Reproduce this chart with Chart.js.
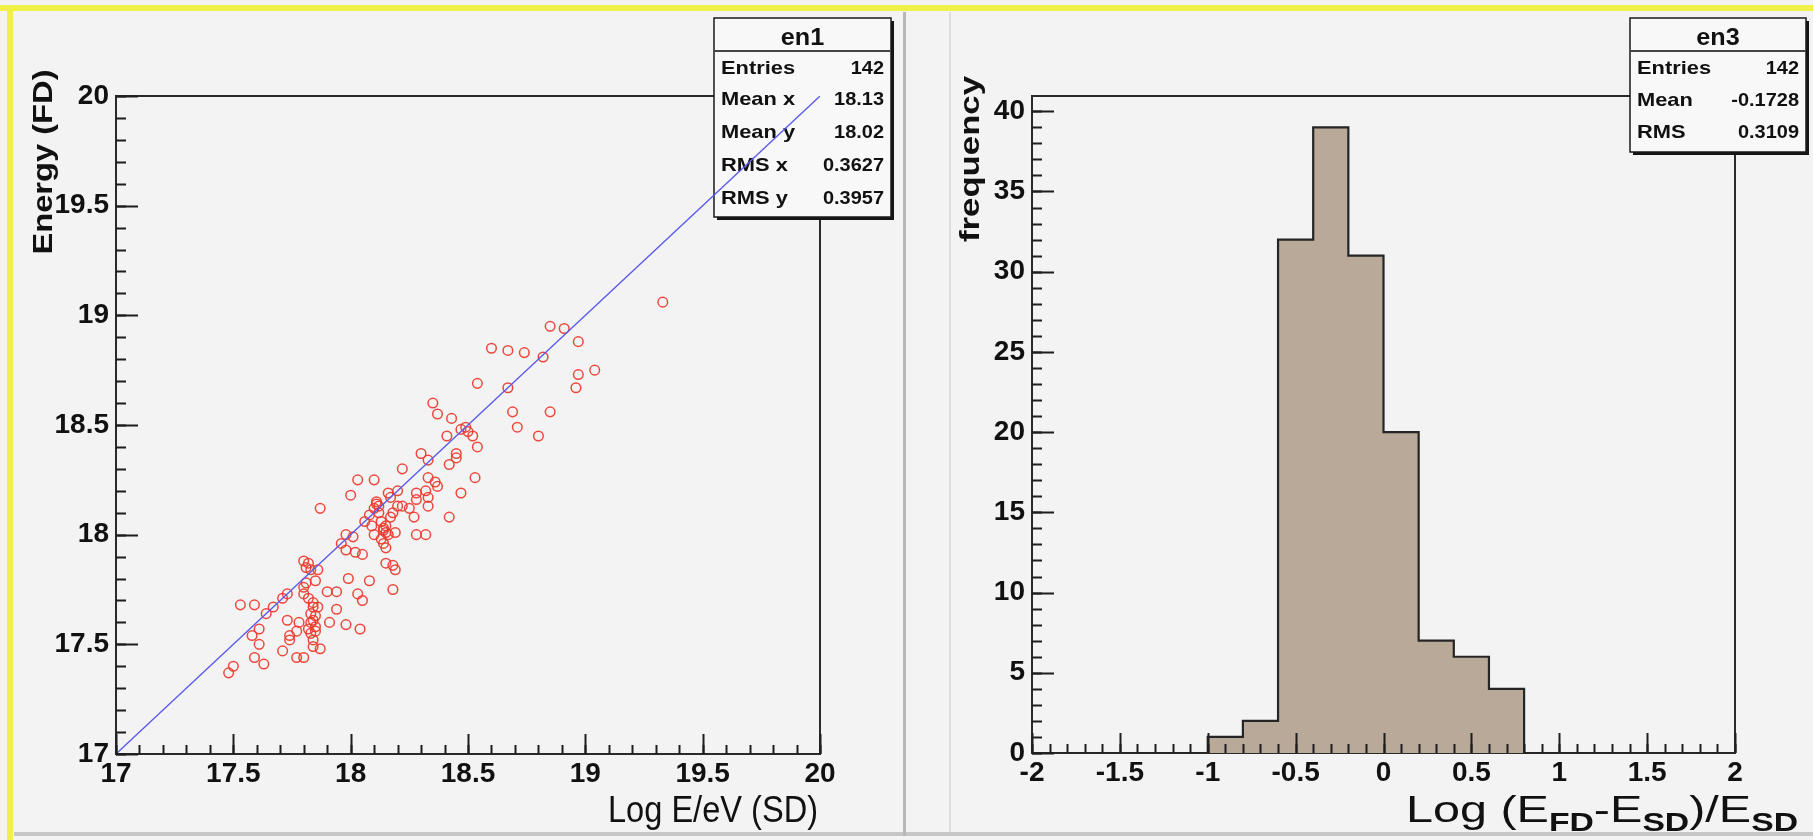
<!DOCTYPE html>
<html>
<head>
<meta charset="utf-8">
<title>en1 / en3</title>
<script src="https://cdn.jsdelivr.net/npm/chart.js@4.4.1/dist/chart.umd.min.js"></script>
<style>
  html, body { margin: 0; padding: 0; }
  body { width: 1813px; height: 840px; background: #f3f3f3; position: relative; overflow: hidden; }
  .pad { position: absolute; top: 0; height: 840px; }
  #padL { left: 0; width: 905px; }
  #padR { left: 905px; width: 908px; }
  .deco { position: absolute; }
</style>
</head>
<body>
<div class="deco" style="left:0;top:5px;width:1813px;height:6px;background:#f0f048"></div>
<div class="deco" style="left:7px;top:5px;width:6px;height:835px;background:#f0f048"></div>
<div class="deco" style="left:14px;top:832px;width:1799px;height:4px;background:#c6c6c6"></div>
<div class="deco" style="left:903px;top:12px;width:3px;height:824px;background:#b8b8b8"></div>
<div class="deco" style="left:949px;top:12px;width:2px;height:820px;background:#dedede"></div>
<div class="pad" id="padL"><canvas id="cL"></canvas></div>
<div class="pad" id="padR"><canvas id="cR"></canvas></div>
<script>
// ---- en1: FD energy vs SD energy (log10 E/eV) ----
const sdLogE = [
  18.54, 18.67, 18.35, 18.37, 18.43, 18.69, 18.85, 18.71, 18.80, 18.49,
  18.47, 18.50, 18.52, 18.54, 18.41, 18.30, 18.33, 18.45, 18.45, 18.42,
  18.53, 18.47, 18.42, 18.22, 18.33, 18.36, 18.37, 18.03, 18.10, 18.00,
  17.87, 18.16, 18.17, 18.28, 18.28, 18.32, 18.33, 18.33, 18.27, 18.28,
  18.32, 18.11, 18.10, 18.08, 18.12, 18.20, 18.18, 18.17, 18.22, 18.25,
  18.15, 18.14, 18.15, 18.19, 18.09, 18.10, 18.13, 18.15, 17.98, 18.01,
  17.98, 18.02, 18.05, 18.15, 18.18, 18.19, 18.18, 17.99, 18.08, 17.80,
  17.81, 17.83, 17.86, 17.85, 17.80, 17.80, 17.82, 17.84, 17.86, 17.83,
  17.84, 17.85, 17.83, 17.84, 17.90, 17.94, 17.94, 17.91, 17.98, 18.04,
  18.03, 18.05, 17.73, 17.71, 17.67, 17.64, 17.53, 17.59, 17.61, 17.58,
  17.61, 17.73, 17.74, 17.77, 17.74, 17.71, 17.77, 17.80, 17.87, 17.59,
  17.63, 17.50, 17.48, 17.78, 17.83, 17.82,
  19.33, 18.85, 18.91, 18.97, 18.60, 18.67, 18.74, 18.82, 18.97, 19.04, 18.96,
  17.84, 17.85, 17.85, 17.84, 17.81, 17.82, 18.12, 18.11, 18.13, 18.14,
  18.16, 18.06, 17.96, 18.20, 18.14
];
const fdLogE = [
  18.69, 18.67, 18.60, 18.55, 18.53, 18.56, 18.56, 18.49, 18.45, 18.49,
  18.48, 18.47, 18.45, 18.40, 18.45, 18.37, 18.34, 18.37, 18.35, 18.32,
  18.26, 18.19, 18.08, 18.30, 18.26, 18.24, 18.22, 18.25, 18.25, 18.18,
  18.12, 18.19, 18.17, 18.19, 18.16, 18.20, 18.17, 18.13, 18.08, 18.00,
  18.00, 18.15, 18.12, 18.09, 18.10, 18.13, 18.10, 18.08, 18.13, 18.12,
  18.04, 18.02, 18.01, 18.01, 18.04, 18.00, 17.98, 17.94, 18.00, 17.99,
  17.93, 17.92, 17.91, 17.87, 17.86, 17.84, 17.75, 17.80, 17.79, 17.88,
  17.85, 17.84, 17.84, 17.79, 17.76, 17.73, 17.71, 17.67, 17.67, 17.64,
  17.61, 17.58, 17.55, 17.52, 17.74, 17.74, 17.66, 17.60, 17.59, 17.57,
  17.73, 17.70, 17.73, 17.71, 17.67, 17.64, 17.68, 17.68, 17.57, 17.54,
  17.50, 17.61, 17.54, 17.56, 17.52, 17.47, 17.44, 17.44, 17.48, 17.44,
  17.41, 17.40, 17.37, 17.60, 17.60, 17.57,
  19.06, 18.95, 18.94, 18.88, 18.85, 18.84, 18.83, 18.81, 18.73, 18.75, 18.67,
  17.69, 17.63, 17.56, 17.49, 17.78, 17.87, 18.13, 18.14, 18.06, 18.03,
  18.00, 18.06, 17.96, 18.20, 17.96
];
// E(FD) = E(SD) reference line
const diagX = [17, 20];
const diagY = [17, 20];
const xTicksL = [17, 17.5, 18, 18.5, 19, 19.5, 20];
const xTickLabelsL = ['17', '17.5', '18', '18.5', '19', '19.5', '20'];
const yTicksL = [17, 17.5, 18, 18.5, 19, 19.5, 20];
const yTickLabelsL = ['17', '17.5', '18', '18.5', '19', '19.5', '20'];
const statLabelsL = ['Entries', 'Mean x', 'Mean y', 'RMS x', 'RMS y'];
const statValuesL = ['142', '18.13', '18.02', '0.3627', '0.3957'];

// ---- en3: log-ratio histogram, 20 bins on [-2, 2] ----
const binEdges = [-2, -1.8, -1.6, -1.4, -1.2, -1, -0.8, -0.6, -0.4, -0.2, 0,
                  0.2, 0.4, 0.6, 0.8, 1, 1.2, 1.4, 1.6, 1.8, 2];
const binCount = [0, 0, 0, 0, 0, 1, 2, 32, 39, 31, 20, 7, 6, 4, 0, 0, 0, 0, 0, 0];
const xTicksR = [-2, -1.5, -1, -0.5, 0, 0.5, 1, 1.5, 2];
const xTickLabelsR = ['-2', '-1.5', '-1', '-0.5', '0', '0.5', '1', '1.5', '2'];
const yTicksR = [0, 5, 10, 15, 20, 25, 30, 35, 40];
const yTickLabelsR = ['0', '5', '10', '15', '20', '25', '30', '35', '40'];
const statLabelsR = ['Entries', 'Mean', 'RMS'];
const statValuesR = ['142', '-0.1728', '0.3109'];

const FONT = '"Liberation Sans", Arial, Helvetica, sans-serif';

// text with a horizontal scale: either a target width or a plain factor
function fitText(ctx, text, x, y, font, align, width, factor) {
  ctx.save();
  ctx.font = font;
  const w = ctx.measureText(text).width;
  const sx = width ? width / w : (factor || 1);
  const rw = w * sx;
  let x0 = x;
  if (align === 'center') x0 = x - rw / 2;
  else if (align === 'right') x0 = x - rw;
  ctx.translate(x0, y);
  ctx.scale(sx, 1);
  ctx.textAlign = 'left';
  ctx.textBaseline = 'alphabetic';
  ctx.fillText(text, 0, 0);
  ctx.restore();
}

// text made of runs (normal + subscript), right-aligned, fitted to a width
function runsText(ctx, runs, xRight, y, width) {
  ctx.save();
  let total = 0;
  runs.forEach(r => { ctx.font = r.font; r.w = ctx.measureText(r.t).width; total += r.w; });
  const sx = width ? width / total : 1;
  ctx.translate(xRight - total * sx, y);
  ctx.scale(sx, 1);
  ctx.textBaseline = 'alphabetic';
  ctx.textAlign = 'left';
  let cx = 0;
  runs.forEach(r => { ctx.font = r.font; ctx.fillText(r.t, cx, r.dy || 0); cx += r.w; });
  ctx.restore();
}

function drawStats(ctx, b) {
  ctx.save();
  ctx.fillStyle = '#151515';
  ctx.fillRect(b.x + 3, b.y + 3, b.w, b.h);
  ctx.fillStyle = '#f8f8f8';
  ctx.fillRect(b.x, b.y, b.w, b.h);
  ctx.strokeStyle = '#1a1a1a';
  ctx.lineWidth = 1.5;
  ctx.strokeRect(b.x, b.y, b.w, b.h);
  ctx.beginPath();
  ctx.moveTo(b.x, b.y + b.sep); ctx.lineTo(b.x + b.w, b.y + b.sep);
  ctx.strokeStyle = '#444'; ctx.lineWidth = 2; ctx.stroke();
  ctx.fillStyle = '#111';
  fitText(ctx, b.title, b.x + b.w / 2, b.y + 27, 'bold 24px ' + FONT, 'center', 0, 1.05);
  b.labels.forEach((lab, i) => {
    const yy = b.y + b.rows[i];
    fitText(ctx, lab, b.x + 7, yy, 'bold 19px ' + FONT, 'left', 0, 1.15);
    fitText(ctx, b.values[i], b.x + b.w - 7, yy, 'bold 19px ' + FONT, 'right', 0, 1.05);
  });
  ctx.restore();
}

function tickSet(ctx, scale, horizontal, from, to, step, len, area) {
  const n = Math.round((to - from) / step);
  ctx.beginPath();
  for (let k = 0; k <= n; k++) {
    const v = from + k * step;
    const p = Math.round(scale.getPixelForValue(v)) + 0.5;
    if (horizontal) { ctx.moveTo(p, area.bottom); ctx.lineTo(p, area.bottom - len); }
    else { ctx.moveTo(area.left, p); ctx.lineTo(area.left + len, p); }
  }
  ctx.stroke();
}

// ROOT-like pad: frame, inner ticks, stats box, axis titles
function rootPad(cfg) {
  return {
    id: 'rootPad',
    beforeDatasetsDraw(chart) {
      const ctx = chart.ctx, a = chart.chartArea;
      ctx.save();
      ctx.strokeStyle = '#2a2a2a';
      ctx.lineWidth = 2;
      ctx.strokeRect(a.left, a.top, a.right - a.left, a.bottom - a.top);
      ctx.restore();
      drawStats(ctx, cfg.stats);
    },
    afterDatasetsDraw(chart) {
      const ctx = chart.ctx, a = chart.chartArea;
      const xs = chart.scales.x, ys = chart.scales.y;
      ctx.save();
      ctx.strokeStyle = '#1e1e1e';
      ctx.lineWidth = 2;
      const t = cfg.ticks;
      tickSet(ctx, xs, true, xs.min, xs.max, t.xMinor, 9, a);
      tickSet(ctx, xs, true, xs.min, xs.max, t.xMajor, 20, a);
      tickSet(ctx, ys, false, ys.min, t.yTop, t.yMinor, 10, a);
      tickSet(ctx, ys, false, ys.min, t.yTop, t.yMajor, 22, a);
      ctx.fillStyle = '#111';
      cfg.titles(ctx, a);
      ctx.restore();
    }
  };
}

const tickFont = { family: FONT, size: 28, weight: 'bold' };

function axisX(min, max, ticks, labels) {
  return {
    type: 'linear', min, max, offset: false,
    afterFit: s => { s.height = 40; },
    afterBuildTicks: s => { s.ticks = ticks.map(v => ({ value: v })); },
    ticks: {
      autoSkip: false, maxRotation: 0, padding: 3, color: '#111', font: tickFont,
      callback: v => labels[ticks.indexOf(v)]
    },
    grid: { display: false, drawTicks: false },
    border: { display: false }
  };
}
function axisY(min, max, ticks, labels) {
  return {
    type: 'linear', min, max,
    afterFit: s => { s.width = 100; },
    afterBuildTicks: s => { s.ticks = ticks.map(v => ({ value: v })); },
    ticks: {
      autoSkip: false, padding: 7, color: '#111', font: tickFont,
      callback: v => labels[ticks.indexOf(v)]
    },
    grid: { display: false, drawTicks: false },
    border: { display: false }
  };
}

// left pad
new Chart(document.getElementById('cL'), {
  type: 'scatter',
  data: {
    datasets: [
      {
        type: 'scatter',
        data: sdLogE.map((x, i) => ({ x, y: fdLogE[i] })),
        pointStyle: 'circle', pointRadius: 4.8, pointBorderWidth: 1.5,
        pointBorderColor: 'rgba(236,58,44,0.92)', pointBackgroundColor: 'rgba(0,0,0,0)',
        order: 2
      },
      {
        type: 'line',
        data: diagX.map((x, i) => ({ x, y: diagY[i] })),
        borderColor: '#5a5aee', borderWidth: 1.3, pointRadius: 0, order: 1
      }
    ]
  },
  options: {
    responsive: true, maintainAspectRatio: false, animation: false,
    layout: { padding: { left: 16, right: 85, top: 96, bottom: 46 } },
    plugins: { legend: { display: false }, tooltip: { enabled: false } },
    scales: { x: axisX(17, 20, xTicksL, xTickLabelsL), y: axisY(17, 20, yTicksL, yTickLabelsL) }
  },
  plugins: [rootPad({
    stats: { x: 714, y: 18, w: 177, h: 199, sep: 33, title: 'en1',
             labels: statLabelsL, values: statValuesL, rows: [56, 87, 120, 153, 186] },
    ticks: { xMajor: 0.5, xMinor: 0.1, yMajor: 0.5, yMinor: 0.1, yTop: 20 },
    titles: (ctx, a) => {
      fitText(ctx, 'Log E/eV (SD)', 818, 822, '36px ' + FONT, 'right', 210);
      ctx.save();
      ctx.translate(52, 162);
      ctx.rotate(-Math.PI / 2);
      fitText(ctx, 'Energy (FD)', 0, 0, 'bold 27px ' + FONT, 'center', 185);
      ctx.restore();
    }
  })]
});

// right pad
new Chart(document.getElementById('cR'), {
  type: 'bar',
  data: {
    datasets: [
      {
        type: 'bar',
        data: binCount.map((c, i) => ({ x: (binEdges[i] + binEdges[i + 1]) / 2, y: c })),
        backgroundColor: '#b9a998', borderWidth: 0,
        barPercentage: 1, categoryPercentage: 1, order: 2
      },
      {
        type: 'line',
        data: binEdges.map((x, i) => ({ x, y: i < binCount.length ? binCount[i] : 0 })),
        stepped: 'before', borderColor: '#252525', borderWidth: 2.2, pointRadius: 0,
        fill: false, order: 1
      }
    ]
  },
  options: {
    responsive: true, maintainAspectRatio: false, animation: false,
    layout: { padding: { left: 27, right: 78, top: 96, bottom: 47 } },
    plugins: { legend: { display: false }, tooltip: { enabled: false } },
    scales: { x: axisX(-2, 2, xTicksR, xTickLabelsR), y: axisY(0, 40.95, yTicksR, yTickLabelsR) }
  },
  plugins: [rootPad({
    stats: { x: 725, y: 18, w: 176, h: 134, sep: 33, title: 'en3',
             labels: statLabelsR, values: statValuesR, rows: [56, 88, 120] },
    ticks: { xMajor: 0.5, xMinor: 0.1, yMajor: 5, yMinor: 1, yTop: 40 },
    titles: (ctx, a) => {
      const big = '36px ' + FONT, sub = 'bold 25px ' + FONT;
      runsText(ctx, [
        { t: 'Log (E', font: big }, { t: 'FD', font: sub, dy: 9 },
        { t: '-E', font: big }, { t: 'SD', font: sub, dy: 9 },
        { t: ')/E', font: big }, { t: 'SD', font: sub, dy: 9 }
      ], 893, 822, 392);
      ctx.save();
      ctx.translate(74, 159);
      ctx.rotate(-Math.PI / 2);
      fitText(ctx, 'frequency', 0, 0, 'bold 27px ' + FONT, 'center', 166);
      ctx.restore();
    }
  })]
});
</script>
</body>
</html>
